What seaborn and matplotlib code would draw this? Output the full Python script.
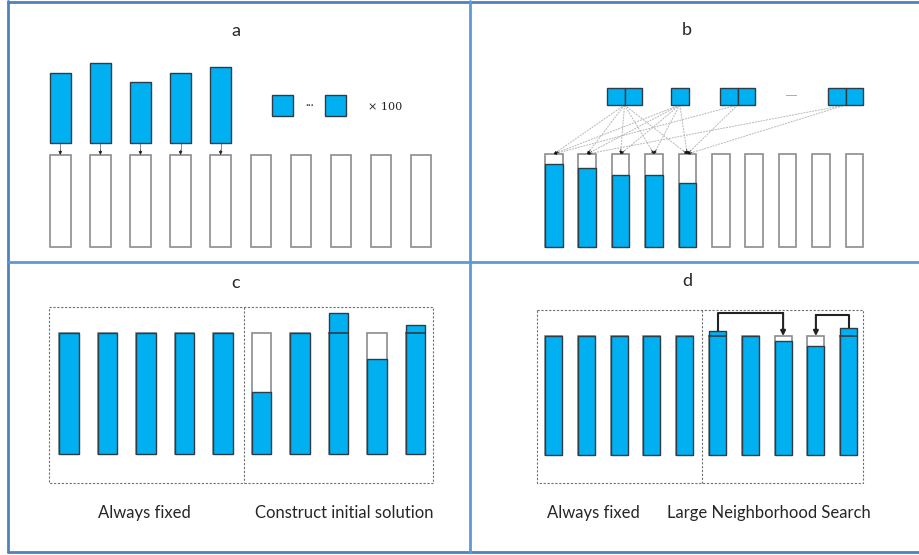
import numpy as np
import matplotlib.pyplot as plt
import seaborn as sns
from matplotlib.patches import Rectangle

sns.set_style("white")
plt.rcParams["font.family"] = ["Lato", "DejaVu Sans"]

BLUE = "#00B0F0"
EDGE = "#2F3B45"
GRAY = "#8C8C8C"
FRAME = "#5B9BD5"

# --- data (pixel units of the original drawing) ---
# panel a: item heights of the five big items, ten empty bins
a_items = [70, 80, 61, 70, 76]
a_nbins = 10
# panel b: fill level of the first five bins (capacity 93)
b_fill = [83, 79, 72, 72, 64, 0, 0, 0, 0, 0]
b_blocks = [2, 1, 2, 2]          # pieces in each small-item group
b_links = [[0, 1, 2, 3, 4], [0, 1, 2, 3, 4], [0, 4], [1, 4]]
# panel c: fill of the ten bins (capacity 121)
c_fill = [121, 121, 121, 121, 121, 62, 121, 141, 95, 129]
# panel d: fill of the ten bins (capacity 119)
d_fill = [119, 119, 119, 119, 119, 124, 119, 114, 109, 127]

fig = plt.figure(figsize=(9.19, 5.55), dpi=100)
ax = fig.add_axes([0, 0, 1, 1])
ax.set_xlim(0, 919)
ax.set_ylim(555, 0)
ax.axis("off")

# frame of the four panels
ax.plot([7.5, 7.5], [1, 552], color="#4F81BD", lw=2)
ax.plot([7.5, 919], [1.5, 1.5], color="#4F81BD", lw=2)
ax.plot([7.5, 919], [552, 552], color="#4F81BD", lw=2)
ax.plot([469.5, 469.5], [1, 552], color=FRAME, lw=2)
ax.plot([7.5, 919], [261.5, 261.5], color=FRAME, lw=2)


def bins(x0, step, width, base, cap, fill):
    xs = x0 + step * np.arange(len(fill))
    fill = np.asarray(fill)
    # empty capacity outline
    ax.bar(xs, cap, width=width, bottom=base - cap, align="edge",
           color="white", edgecolor=GRAY, lw=1.2, zorder=2)
    m = fill > 0
    ax.bar(xs[m], fill[m], width=width, bottom=base - fill[m], align="edge",
           color=BLUE, edgecolor=EDGE, lw=1.0, zorder=3)
    over = fill > cap
    for x in xs[over]:
        ax.plot([x, x + width], [base - cap, base - cap], color=EDGE, lw=1.2, zorder=4)
    return xs


# ---------------- panel a ----------------
ax.text(236, 31, "a", ha="center", va="center", fontsize=13)
axs = 50 + 40.1 * np.arange(len(a_items))
ax.bar(axs, a_items, width=20.5, bottom=143 - np.array(a_items), align="edge",
       color=BLUE, edgecolor=EDGE, lw=1.0, zorder=3)
bins(50, 40.1, 20.5, 247, 92, [0] * a_nbins)
for x in axs:
    ax.plot([x + 10.25, x + 10.25], [143, 151], color="#888888", lw=0.7)
    ax.annotate("", xy=(x + 10.25, 155), xytext=(x + 10.25, 150),
                arrowprops=dict(arrowstyle="-|>", color="#222222", lw=0.5,
                                mutation_scale=5, shrinkA=0, shrinkB=0))
for x in [272, 325]:
    ax.add_patch(Rectangle((x, 95), 21, 21, facecolor=BLUE, edgecolor=EDGE, lw=1.0))
ax.text(310, 105, "···", ha="center", va="center", fontsize=8, color="#444444")
ax.text(368, 107, "× 100", ha="left", va="center", fontsize=8,
        family=["DejaVu Serif"], color="#222222")

# ---------------- panel b ----------------
ax.text(687, 30, "b", ha="center", va="center", fontsize=13)
bxs = bins(545, 33.4, 17.5, 247, 93, b_fill)
blk_x = [607, 671, 720, 828]
centers = []
for x, n in zip(blk_x, b_blocks):
    for k in range(n):
        ax.add_patch(Rectangle((x + 17.5 * k, 88), 17.5, 17,
                               facecolor=BLUE, edgecolor=EDGE, lw=1.0, zorder=3))
    centers.append(x + 17.5 * n / 2)
ax.text(792, 94, "......", ha="center", va="center", fontsize=6, color="#333333")
for cx, links in zip(centers, b_links):
    for j in links:
        tx = bxs[j] + 8.75
        ax.plot([cx, tx], [105, 154], color="#B8B8B8", lw=0.7,
                linestyle=(0, (2, 1)), zorder=1)
        v = np.array([tx - cx, 154 - 105])
        v = v / np.hypot(*v) * 5
        ax.annotate("", xy=(tx, 154), xytext=(tx - v[0], 154 - v[1]),
                    arrowprops=dict(arrowstyle="-|>", color="#111111", lw=0.4,
                                    mutation_scale=4, shrinkA=0, shrinkB=0))

# ---------------- panel c ----------------
ax.text(236, 283, "c", ha="center", va="center", fontsize=13)
ax.add_patch(Rectangle((49, 307), 384, 176, fill=False, edgecolor="#707070",
                       lw=0.8, linestyle=(0, (2, 1.5))))
ax.plot([244, 244], [307, 483], color="#707070", lw=0.8, linestyle=(0, (2, 1.5)))
bins(59, 38.5, 19.5, 454, 121, c_fill)
ax.text(144, 513, "Always fixed", ha="center", va="center", fontsize=12)
ax.text(344, 513, "Construct initial solution", ha="center", va="center", fontsize=12)

# ---------------- panel d ----------------
ax.text(687, 281, "d", ha="center", va="center", fontsize=13)
ax.add_patch(Rectangle((537, 310), 326, 173, fill=False, edgecolor="#707070",
                       lw=0.8, linestyle=(0, (2, 1.5))))
ax.plot([702, 702], [310, 483], color="#707070", lw=0.8, linestyle=(0, (2, 1.5)))
dxs = bins(545, 32.8, 17, 455, 119, d_fill)
for src, dst, ytop in [(5, 7, 313), (9, 8, 315)]:
    xs_, xd = dxs[src] + 8.5, dxs[dst] + 8.5
    ax.plot([xs_, xs_, xd], [455 - d_fill[src], ytop, ytop], color="#222222", lw=1.5)
    ax.annotate("", xy=(xd, 336), xytext=(xd, ytop),
                arrowprops=dict(arrowstyle="-|>", color="#222222", lw=1.5,
                                mutation_scale=7, shrinkA=0, shrinkB=0))
ax.text(593, 513, "Always fixed", ha="center", va="center", fontsize=12)
ax.text(769, 513, "Large Neighborhood Search", ha="center", va="center", fontsize=12)

fig.savefig("out.png", dpi=100)
